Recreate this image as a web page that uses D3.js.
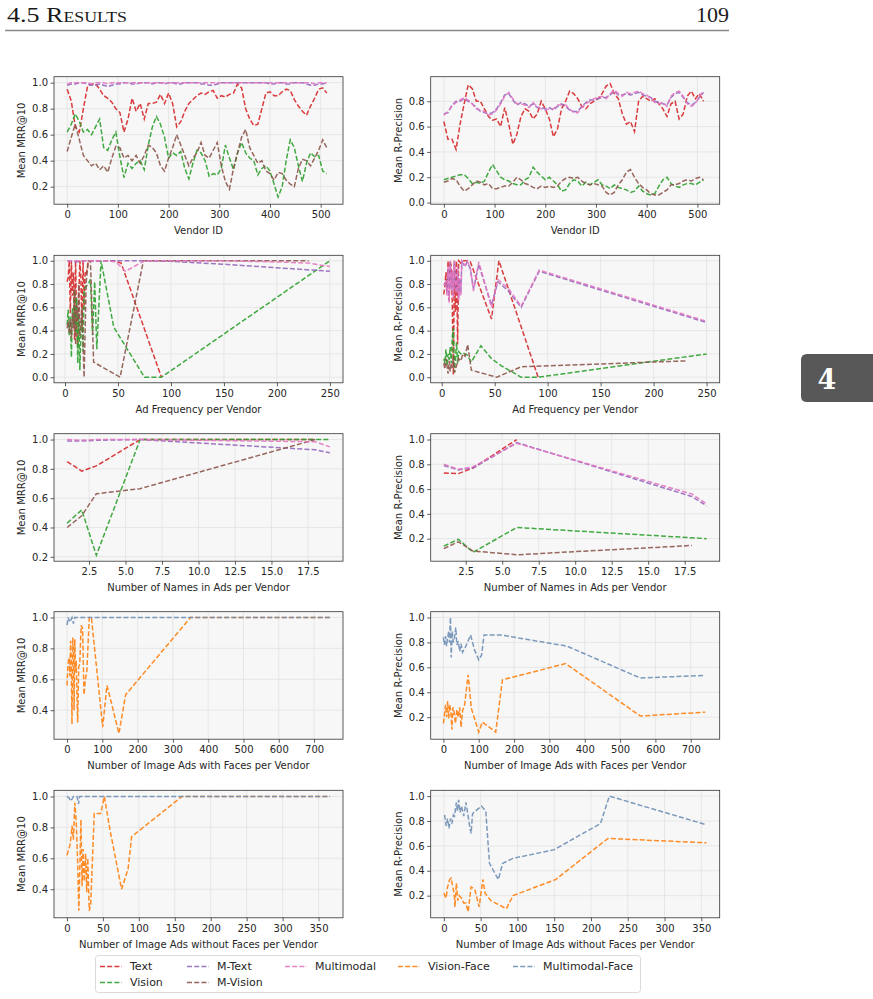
<!DOCTYPE html>
<html>
<head>
<meta charset="utf-8">
<script src="https://cdn.jsdelivr.net/npm/d3@7"></script>
<style>
  body { margin: 0; background: #fff; }
  svg { display: block; }
</style>
</head>
<body>
<svg id="fig" width="873" height="999"></svg>
<script>
// ---- data: mean scores per vendor id (sampled every 8 ids) ----
const vendorIds = d3.range(0, 520, 8);

const mrrVendorText = [0.95,0.86,0.66,0.62,0.80,0.97,0.99,0.99,0.95,0.90,
  0.88,0.85,0.80,0.77,0.62,0.72,0.88,0.78,0.84,0.72,
  0.84,0.84,0.85,0.91,0.84,0.92,0.84,0.66,0.70,0.78,
  0.84,0.87,0.90,0.92,0.91,0.93,0.94,0.88,0.90,0.89,
  0.91,0.92,0.99,0.96,0.80,0.72,0.67,0.68,0.80,0.92,
  0.93,0.90,0.90,0.93,0.95,0.94,0.87,0.82,0.78,0.75,
  0.82,0.88,0.95,0.96,0.92];
const mrrVendorVision = [0.62,0.68,0.76,0.70,0.62,0.64,0.60,0.66,0.72,0.50,
  0.48,0.56,0.62,0.43,0.27,0.38,0.34,0.38,0.40,0.33,
  0.52,0.66,0.74,0.68,0.58,0.42,0.46,0.44,0.47,0.34,
  0.26,0.38,0.48,0.46,0.40,0.28,0.30,0.29,0.34,0.52,
  0.42,0.33,0.46,0.54,0.46,0.42,0.40,0.29,0.34,0.36,
  0.32,0.22,0.12,0.20,0.40,0.56,0.50,0.36,0.24,0.38,
  0.46,0.43,0.44,0.32,0.30];
const mrrVendorMText = [0.98,0.99,0.99,1.00,1.00,0.99,0.98,0.98,0.99,0.98,
  0.97,0.98,0.99,0.99,1.00,1.00,0.99,0.99,1.00,1.00,
  1.00,0.99,1.00,1.00,0.99,1.00,1.00,0.99,0.99,1.00,
  1.00,1.00,1.00,0.99,0.99,0.98,0.98,0.99,1.00,1.00,
  1.00,1.00,1.00,1.00,1.00,1.00,1.00,1.00,1.00,1.00,
  0.99,0.99,1.00,1.00,0.99,0.99,1.00,1.00,1.00,0.99,
  0.98,0.98,0.99,0.99,1.00];
const mrrVendorMVision = [0.47,0.58,0.68,0.56,0.44,0.40,0.36,0.38,0.33,0.36,
  0.31,0.42,0.51,0.50,0.42,0.44,0.40,0.44,0.38,0.44,
  0.52,0.50,0.46,0.36,0.32,0.42,0.50,0.60,0.52,0.44,
  0.36,0.42,0.46,0.54,0.44,0.42,0.48,0.54,0.36,0.24,
  0.18,0.34,0.46,0.58,0.64,0.50,0.44,0.38,0.40,0.32,
  0.30,0.25,0.31,0.30,0.25,0.22,0.20,0.34,0.41,0.40,
  0.36,0.42,0.48,0.56,0.50];
const mrrVendorMultimodal = [0.99,1.00,1.00,1.00,1.00,1.00,0.99,1.00,1.00,1.00,
  0.99,1.00,1.00,1.00,1.00,1.00,1.00,1.00,1.00,1.00,
  1.00,1.00,1.00,1.00,1.00,1.00,1.00,1.00,1.00,1.00,
  1.00,1.00,1.00,1.00,1.00,1.00,1.00,1.00,1.00,1.00,
  1.00,1.00,1.00,1.00,1.00,1.00,1.00,1.00,1.00,1.00,
  1.00,1.00,1.00,1.00,1.00,1.00,1.00,1.00,1.00,1.00,
  1.00,0.99,1.00,1.00,1.00];

const rpVendorText = [0.64,0.50,0.50,0.42,0.62,0.78,0.93,0.90,0.80,0.80,
  0.74,0.68,0.65,0.66,0.60,0.75,0.62,0.46,0.54,0.68,
  0.74,0.72,0.66,0.70,0.80,0.74,0.66,0.52,0.58,0.74,
  0.80,0.88,0.86,0.82,0.76,0.74,0.78,0.80,0.82,0.86,
  0.92,0.94,0.86,0.82,0.70,0.62,0.64,0.56,0.80,0.84,
  0.82,0.80,0.82,0.78,0.74,0.68,0.78,0.80,0.66,0.70,
  0.84,0.88,0.82,0.86,0.80];
const rpVendorVision = [0.18,0.19,0.20,0.21,0.22,0.22,0.19,0.15,0.16,0.15,
  0.17,0.24,0.30,0.25,0.20,0.18,0.17,0.15,0.14,0.14,
  0.18,0.20,0.28,0.24,0.21,0.18,0.20,0.17,0.14,0.09,
  0.10,0.15,0.18,0.17,0.13,0.16,0.14,0.16,0.18,0.14,
  0.13,0.11,0.14,0.12,0.11,0.10,0.08,0.09,0.13,0.09,
  0.07,0.06,0.07,0.13,0.18,0.20,0.15,0.13,0.12,0.14,
  0.15,0.15,0.14,0.16,0.18];
const rpVendorMText = [0.70,0.71,0.77,0.80,0.80,0.82,0.80,0.78,0.75,0.72,
  0.71,0.70,0.71,0.74,0.79,0.85,0.86,0.81,0.77,0.79,
  0.78,0.76,0.78,0.75,0.75,0.74,0.75,0.73,0.76,0.78,
  0.76,0.73,0.72,0.72,0.76,0.79,0.81,0.81,0.82,0.83,
  0.83,0.85,0.88,0.85,0.85,0.86,0.85,0.86,0.87,0.85,
  0.84,0.83,0.80,0.79,0.78,0.77,0.83,0.86,0.87,0.83,
  0.79,0.77,0.79,0.83,0.87];
const rpVendorMVision = [0.16,0.17,0.19,0.18,0.13,0.09,0.11,0.14,0.17,0.16,
  0.14,0.15,0.11,0.11,0.12,0.13,0.13,0.16,0.20,0.18,
  0.15,0.14,0.12,0.11,0.13,0.12,0.13,0.12,0.13,0.17,
  0.19,0.20,0.19,0.20,0.17,0.15,0.14,0.15,0.14,0.13,
  0.08,0.06,0.08,0.14,0.18,0.24,0.26,0.20,0.15,0.12,
  0.10,0.07,0.06,0.06,0.08,0.10,0.14,0.14,0.15,0.17,
  0.18,0.17,0.19,0.20,0.18];
const rpVendorMultimodal = [0.69,0.72,0.76,0.79,0.81,0.83,0.81,0.78,0.74,0.73,
  0.72,0.69,0.70,0.73,0.78,0.84,0.87,0.82,0.78,0.78,
  0.77,0.75,0.79,0.76,0.74,0.73,0.74,0.74,0.77,0.77,
  0.77,0.74,0.71,0.71,0.75,0.78,0.80,0.82,0.83,0.84,
  0.82,0.86,0.89,0.86,0.84,0.87,0.86,0.87,0.88,0.86,
  0.85,0.82,0.79,0.78,0.79,0.76,0.84,0.87,0.88,0.84,
  0.78,0.76,0.78,0.84,0.88];

// ---- ad frequency per vendor ----
const freqMrrTextX = [2,3,4,5,6,7,8,9,10,11,12,13,14,15,16,17,18,19,20,22,24,26,46,53,91];
const freqMrrTextY = [0.82,0.86,1.0,0.55,1.0,0.7,0.9,0.32,1.0,0.45,0.25,0.68,1.0,0.85,0.4,1.0,0.58,0.9,0.88,1.0,1.0,1.0,1.0,0.98,0.0];
const freqMrrVisionX = [2,3,4,5,6,7,8,9,10,11,12,13,14,15,16,17,18,20,22,24,26,28,30,34,46,75,91,250];
const freqMrrVisionY = [0.45,0.58,0.36,0.52,0.17,0.6,0.46,0.75,0.38,0.68,0.12,0.55,0.06,0.38,0.5,0.22,0.76,0.78,0.8,0.84,0.36,0.82,0.24,1.0,0.43,0.0,0.0,1.0];
const freqMrrMTextX = [2,5,10,20,40,75,100,150,200,250];
const freqMrrMTextY = [1.0,1.0,0.99,1.0,1.0,1.0,0.995,0.97,0.94,0.91];
const freqMrrMVisionX = [2,3,4,5,6,7,8,9,10,11,12,13,14,16,18,20,22,24,27,52,74,120,180,230];
const freqMrrMVisionY = [0.42,0.48,0.38,0.5,0.34,0.55,0.42,0.76,0.28,0.62,0.48,0.8,0.35,0.6,0.0,0.82,1.0,1.0,0.13,0.0,1.0,1.0,1.0,1.0];
const freqMrrMultimodalX = [2,5,10,20,40,48,57,75,100,150,200,230,250];
const freqMrrMultimodalY = [1.0,1.0,1.0,1.0,1.0,0.99,0.91,1.0,1.0,1.0,0.99,0.98,0.95];

const freqRpTextX = [2,3,4,5,6,7,8,9,10,11,12,13,14,15,16,18,20,24,27,47,54,91];
const freqRpTextY = [0.71,0.79,0.9,0.74,1.0,0.66,1.0,0.95,0.62,0.02,1.0,0.56,1.0,0.28,1.0,0.98,1.0,1.0,0.99,0.5,1.0,0.0];
const freqRpVisionX = [2,3,4,5,6,7,8,9,10,11,12,13,14,15,16,18,20,24,28,33,37,47,56,75,91,250];
const freqRpVisionY = [0.16,0.12,0.24,0.1,0.2,0.15,0.26,0.12,0.35,0.42,0.04,0.16,0.3,0.12,0.22,0.2,0.21,0.19,0.13,0.21,0.27,0.16,0.1,0.0,0.0,0.2];
const freqRpMTextX = [2,4,5,6,7,8,9,10,11,12,13,14,15,16,17,18,19,22,24,27,30,35,39,47,53,63,75,92,250];
const freqRpMTextY = [0.8,0.8,0.72,0.93,0.66,0.98,0.77,0.9,0.7,0.99,0.78,0.74,0.93,0.68,0.84,0.72,0.99,0.95,0.99,0.93,0.76,0.97,0.85,0.62,0.82,0.74,0.6,0.91,0.47];
const freqRpMVisionX = [2,3,4,5,6,7,8,9,10,11,12,14,16,18,20,22,24.5,28,52,75,230];
const freqRpMVisionY = [0.12,0.07,0.16,0.1,0.03,0.14,0.05,0.12,0.08,0.18,0.04,0.1,0.16,0.14,0.2,0.18,0.28,0.06,0.0,0.09,0.14];
const freqRpMultimodalX = [2,4,5,6,7,8,9,10,11,12,13,14,15,16,17,18,19,22,24,27,30,35,39,47,53,63,75,92,250];
const freqRpMultimodalY = [0.79,0.82,0.7,0.95,0.64,1.0,0.75,0.92,0.68,1.0,0.8,0.72,0.95,0.66,0.85,0.7,1.0,0.96,1.0,0.94,0.74,0.99,0.86,0.6,0.84,0.76,0.61,0.92,0.48];

// ---- number of names in ads per vendor ----
const namesMrrTextX = [1,2,3,6,18];
const namesMrrTextY = [0.85,0.785,0.82,1.0,1.0];
const namesMrrVisionX = [1,2,3,6,19];
const namesMrrVisionY = [0.43,0.52,0.21,1.0,1.0];
const namesMrrMTextX = [1,2,3,6,18,19];
const namesMrrMTextY = [0.99,0.99,0.995,1.0,0.93,0.91];
const namesMrrMVisionX = [1,2,3,6,18];
const namesMrrMVisionY = [0.40,0.48,0.63,0.665,1.0];
const namesMrrMultimodalX = [1,2,3,6,18,19];
const namesMrrMultimodalY = [1.0,0.995,1.0,1.0,0.985,0.95];

const namesRpTextX = [1,2,3,6];
const namesRpTextY = [0.73,0.725,0.77,1.0];
const namesRpVisionX = [1,2,3,6,19];
const namesRpVisionY = [0.14,0.195,0.09,0.29,0.20];
const namesRpMTextX = [1,2,3,6,18,19];
const namesRpMTextY = [0.79,0.755,0.77,0.975,0.54,0.465];
const namesRpMVisionX = [1,2,3,6,18];
const namesRpMVisionY = [0.12,0.175,0.10,0.07,0.145];
const namesRpMultimodalX = [1,2,3,6,18,19];
const namesRpMultimodalY = [0.80,0.76,0.78,0.97,0.56,0.48];

// ---- image ads with faces per vendor ----
const facesMrrVisionFaceX = [0,2,4,6,8,10,12,14,16,18,20,22,24,26,28,30,33,36,40,44,48,52,56,63,69,101,113,120,147,166,350,745];
const facesMrrVisionFaceY = [0.56,0.67,0.72,0.74,0.62,0.85,0.7,0.31,0.87,0.78,0.4,0.86,0.65,0.72,0.5,0.32,0.68,0.7,0.95,0.93,0.5,0.6,0.65,1.0,1.0,0.29,0.56,0.5,0.25,0.5,1.0,1.0];
const facesMrrMmFaceX = [0,3,8,14,18,22,745];
const facesMrrMmFaceY = [0.95,1.0,0.97,1.0,0.96,1.0,1.0];

const facesRpVisionFaceX = [0,3,6,9,12,15,18,21,24,27,30,34,38,42,46,50,54,60,70,79,88,100,110,125,148,167,346,557,741];
const facesRpVisionFaceY = [0.15,0.22,0.3,0.2,0.33,0.19,0.3,0.25,0.1,0.28,0.24,0.15,0.26,0.2,0.28,0.12,0.25,0.3,0.54,0.27,0.19,0.08,0.16,0.13,0.08,0.5,0.63,0.21,0.24];
const facesRpMmFaceX = [0,3,6,9,12,15,17,19,20,22,25,28,31,35,38,42,46,50,54,62,77,88,100,108,115,162,350,557,741];
const facesRpMmFaceY = [0.84,0.78,0.85,0.77,0.84,0.89,0.8,0.95,1.0,0.68,0.89,0.8,0.83,0.92,0.78,0.81,0.73,0.79,0.72,0.76,0.86,0.74,0.66,0.7,0.86,0.86,0.77,0.515,0.535];

// ---- image ads without faces per vendor ----
const noFacesMrrVisionFaceX = [0,2,4,6,7,9,11,13,15,16.5,18,19.5,21,22.5,24,26,27.5,29,31,33,38,47,52,60,76,85,90,160,366];
const noFacesMrrVisionFaceY = [0.62,0.65,0.68,0.75,0.81,0.72,0.96,0.83,0.56,0.26,0.55,0.85,0.42,0.66,0.45,0.63,0.38,0.6,0.26,0.3,0.89,0.89,1.0,0.78,0.4,0.53,0.74,1.0,1.0];
const noFacesMrrMmFaceX = [0,3,5.5,9,14,16,17.5,366];
const noFacesMrrMmFaceY = [1.0,0.99,0.97,1.0,1.0,0.95,1.0,1.0];

const noFacesRpVisionFaceX = [0,3,5,8,10,12,14,15,17,19,21,24,27,30,33,37,42,48,53,56,64,85,94,152,223,357];
const noFacesRpVisionFaceY = [0.22,0.18,0.27,0.33,0.34,0.27,0.22,0.11,0.3,0.16,0.2,0.18,0.14,0.14,0.07,0.27,0.25,0.11,0.33,0.22,0.16,0.095,0.2,0.33,0.66,0.625];
const noFacesRpMmFaceX = [1,3,5,7,9,11,13,14.5,17,18.5,20,22,24,27,30,33,35,37,39,51,57,62,74,80,94,150,213,225,357];
const noFacesRpMmFaceY = [0.85,0.76,0.82,0.74,0.82,0.78,0.85,0.84,0.95,0.88,0.97,0.87,0.92,0.84,0.95,0.84,0.76,0.7,0.86,0.92,0.88,0.46,0.33,0.46,0.5,0.57,0.78,1.0,0.77];

const legendNames = ['Text', 'Vision', 'M-Text', 'M-Vision', 'Multimodal', 'Vision-Face', 'Multimodal-Face'];

// ---- layout ----
const colors = {
  'Text': '#d62728', 'Vision': '#2ca02c', 'M-Text': '#9467bd', 'M-Vision': '#8c564b',
  'Multimodal': '#e377c2', 'Vision-Face': '#ff7f0e', 'Multimodal-Face': '#6f8fb5'
};
const font = "'DejaVu Sans', sans-serif";
const boxW = 289, boxH = 127.5;
const colLeft = [54, 430.7];
const rowTop = [76.7, 255.3, 433.7, 611.7, 790.3];
const fmt1 = d3.format('.1f');
const fmtInt = d3.format('d');

const panels = [
  { row: 0, col: 0, xDom: [-26, 544], yDom: [0.065, 1.046], xTicks: d3.range(0, 501, 100), yTicks: [0.2, 0.4, 0.6, 0.8, 1.0],
    xLabel: 'Vendor ID', yLabel: 'Mean MRR@10',
    series: [['Text', vendorIds, mrrVendorText], ['Vision', vendorIds, mrrVendorVision], ['M-Text', vendorIds, mrrVendorMText],
             ['M-Vision', vendorIds, mrrVendorMVision], ['Multimodal', vendorIds, mrrVendorMultimodal]] },
  { row: 0, col: 1, xDom: [-26, 544], yDom: [-0.013, 0.994], xTicks: d3.range(0, 501, 100), yTicks: [0.0, 0.2, 0.4, 0.6, 0.8],
    xLabel: 'Vendor ID', yLabel: 'Mean R-Precision',
    series: [['Text', vendorIds, rpVendorText], ['Vision', vendorIds, rpVendorVision], ['M-Text', vendorIds, rpVendorMText],
             ['M-Vision', vendorIds, rpVendorMVision], ['Multimodal', vendorIds, rpVendorMultimodal]] },
  { row: 1, col: 0, xDom: [-10.4, 262.4], yDom: [-0.048, 1.047], xTicks: d3.range(0, 251, 50), yTicks: [0.0, 0.2, 0.4, 0.6, 0.8, 1.0],
    xLabel: 'Ad Frequency per Vendor', yLabel: 'Mean MRR@10',
    series: [['Text', freqMrrTextX, freqMrrTextY], ['Vision', freqMrrVisionX, freqMrrVisionY], ['M-Text', freqMrrMTextX, freqMrrMTextY],
             ['M-Vision', freqMrrMVisionX, freqMrrMVisionY], ['Multimodal', freqMrrMultimodalX, freqMrrMultimodalY]] },
  { row: 1, col: 1, xDom: [-10.4, 262.4], yDom: [-0.048, 1.047], xTicks: d3.range(0, 251, 50), yTicks: [0.0, 0.2, 0.4, 0.6, 0.8, 1.0],
    xLabel: 'Ad Frequency per Vendor', yLabel: 'Mean R-Precision',
    series: [['Text', freqRpTextX, freqRpTextY], ['Vision', freqRpVisionX, freqRpVisionY], ['M-Text', freqRpMTextX, freqRpMTextY],
             ['M-Vision', freqRpMVisionX, freqRpMVisionY], ['Multimodal', freqRpMultimodalX, freqRpMultimodalY]] },
  { row: 2, col: 0, xDom: [0.1, 19.9], yDom: [0.17, 1.04], xTicks: [2.5, 5, 7.5, 10, 12.5, 15, 17.5], xFmt: fmt1, yTicks: [0.2, 0.4, 0.6, 0.8, 1.0],
    xLabel: 'Number of Names in Ads per Vendor', yLabel: 'Mean MRR@10',
    series: [['Text', namesMrrTextX, namesMrrTextY], ['Vision', namesMrrVisionX, namesMrrVisionY], ['M-Text', namesMrrMTextX, namesMrrMTextY],
             ['M-Vision', namesMrrMVisionX, namesMrrMVisionY], ['Multimodal', namesMrrMultimodalX, namesMrrMultimodalY]] },
  { row: 2, col: 1, xDom: [0.1, 19.9], yDom: [0.018, 1.047], xTicks: [2.5, 5, 7.5, 10, 12.5, 15, 17.5], xFmt: fmt1, yTicks: [0.2, 0.4, 0.6, 0.8, 1.0],
    xLabel: 'Number of Names in Ads per Vendor', yLabel: 'Mean R-Precision',
    series: [['Text', namesRpTextX, namesRpTextY], ['Vision', namesRpVisionX, namesRpVisionY], ['M-Text', namesRpMTextX, namesRpMTextY],
             ['M-Vision', namesRpMVisionX, namesRpMVisionY], ['Multimodal', namesRpMultimodalX, namesRpMultimodalY]] },
  { row: 3, col: 0, xDom: [-37, 782], yDom: [0.2125, 1.0375], xTicks: d3.range(0, 701, 100), yTicks: [0.4, 0.6, 0.8, 1.0],
    xLabel: 'Number of Image Ads with Faces per Vendor', yLabel: 'Mean MRR@10',
    series: [['Vision-Face', facesMrrVisionFaceX, facesMrrVisionFaceY], ['Multimodal-Face', facesMrrMmFaceX, facesMrrMmFaceY]] },
  { row: 3, col: 1, xDom: [-36, 782], yDom: [0.0235, 1.0465], xTicks: d3.range(0, 701, 100), yTicks: [0.2, 0.4, 0.6, 0.8, 1.0],
    xLabel: 'Number of Image Ads with Faces per Vendor', yLabel: 'Mean R-Precision',
    series: [['Vision-Face', facesRpVisionFaceX, facesRpVisionFaceY], ['Multimodal-Face', facesRpMmFaceX, facesRpMmFaceY]] },
  { row: 4, col: 0, xDom: [-18, 384], yDom: [0.215, 1.04], xTicks: d3.range(0, 351, 50), yTicks: [0.4, 0.6, 0.8, 1.0],
    xLabel: 'Number of Image Ads without Faces per Vendor', yLabel: 'Mean MRR@10',
    series: [['Vision-Face', noFacesMrrVisionFaceX, noFacesMrrVisionFaceY], ['Multimodal-Face', noFacesMrrMmFaceX, noFacesMrrMmFaceY]] },
  { row: 4, col: 1, xDom: [-17.9, 375], yDom: [0.022, 1.047], xTicks: d3.range(0, 351, 50), yTicks: [0.2, 0.4, 0.6, 0.8, 1.0],
    xLabel: 'Number of Image Ads without Faces per Vendor', yLabel: 'Mean R-Precision',
    series: [['Vision-Face', noFacesRpVisionFaceX, noFacesRpVisionFaceY], ['Multimodal-Face', noFacesRpMmFaceX, noFacesRpMmFaceY]] }
];

const svg = d3.select('#fig');

// page header
svg.append('text')
  .attr('x', 7).attr('y', 22)
  .attr('font-family', "'Liberation Serif', serif").attr('font-size', 22)
  .attr('fill', '#1a1a1a')
  .style('font-variant', 'small-caps')
  .attr('textLength', 120).attr('lengthAdjust', 'spacingAndGlyphs')
  .text('4.5 Results');
svg.append('text')
  .attr('x', 729).attr('y', 22).attr('text-anchor', 'end')
  .attr('font-family', "'Liberation Serif', serif").attr('font-size', 22)
  .attr('fill', '#1a1a1a')
  .text('109');
svg.append('line')
  .attr('x1', 5).attr('x2', 729).attr('y1', 30.5).attr('y2', 30.5)
  .attr('stroke', '#8a8a8a').attr('stroke-width', 1.5);

// chapter tab on the right edge
svg.append('path')
  .attr('d', 'M873,354 L807,354 Q801,354 801,360 L801,396 Q801,402 807,402 L873,402 Z')
  .attr('fill', '#585858');
svg.append('text')
  .attr('x', 827).attr('y', 389).attr('text-anchor', 'middle')
  .attr('font-family', "'DejaVu Serif', serif").attr('font-weight', 'bold').attr('font-size', 27)
  .attr('fill', '#fff')
  .text('4');

const defs = svg.append('defs');

panels.forEach((p, i) => {
  const x0 = colLeft[p.col], y0 = rowTop[p.row];
  const x = d3.scaleLinear().domain(p.xDom).range([x0, x0 + boxW]);
  const y = d3.scaleLinear().domain(p.yDom).range([y0 + boxH, y0]);
  const g = svg.append('g');

  g.append('rect')
    .attr('x', x0).attr('y', y0).attr('width', boxW).attr('height', boxH)
    .attr('fill', '#f7f7f7');

  // grid
  g.selectAll('.vgrid').data(p.xTicks).join('line')
    .attr('x1', d => x(d)).attr('x2', d => x(d))
    .attr('y1', y0).attr('y2', y0 + boxH)
    .attr('stroke', '#e2e2e2').attr('stroke-width', 0.8);
  g.selectAll('.hgrid').data(p.yTicks).join('line')
    .attr('x1', x0).attr('x2', x0 + boxW)
    .attr('y1', d => y(d)).attr('y2', d => y(d))
    .attr('stroke', '#e2e2e2').attr('stroke-width', 0.8);

  defs.append('clipPath').attr('id', 'clip' + i)
    .append('rect').attr('x', x0).attr('y', y0).attr('width', boxW).attr('height', boxH);

  const line = d3.line().x(d => x(d[0])).y(d => y(d[1]));
  const lines = g.append('g').attr('clip-path', `url(#clip${i})`);
  p.series.forEach(([name, xs, ys]) => {
    lines.append('path')
      .datum(d3.zip(xs, ys))
      .attr('d', line)
      .attr('fill', 'none')
      .attr('stroke', colors[name])
      .attr('stroke-opacity', 0.9)
      .attr('stroke-width', 1.5)
      .attr('stroke-dasharray', '5,2.2');
  });

  g.append('rect')
    .attr('x', x0).attr('y', y0).attr('width', boxW).attr('height', boxH)
    .attr('fill', 'none').attr('stroke', '#333').attr('stroke-width', 0.8);

  const xAxis = g.append('g')
    .attr('transform', `translate(0,${y0 + boxH})`)
    .call(d3.axisBottom(x).tickValues(p.xTicks).tickFormat(p.xFmt || fmtInt).tickSize(3.5).tickPadding(3.5).tickSizeOuter(0));
  const yAxis = g.append('g')
    .attr('transform', `translate(${x0},0)`)
    .call(d3.axisLeft(y).tickValues(p.yTicks).tickFormat(fmt1).tickSize(3.5).tickPadding(2.5).tickSizeOuter(0));
  [xAxis, yAxis].forEach(a => {
    a.select('.domain').remove();
    a.attr('font-family', font).attr('font-size', 10);
    a.selectAll('line').attr('stroke', '#333').attr('stroke-width', 0.8);
    a.selectAll('text').attr('fill', '#262626');
  });

  g.append('text')
    .attr('x', x0 + boxW / 2).attr('y', y0 + boxH + 30)
    .attr('text-anchor', 'middle')
    .attr('font-family', font).attr('font-size', 10).attr('fill', '#262626')
    .text(p.xLabel);
  g.append('text')
    .attr('transform', `translate(${x0 - 29},${y0 + boxH / 2}) rotate(-90)`)
    .attr('text-anchor', 'middle')
    .attr('font-family', font).attr('font-size', 10).attr('fill', '#262626')
    .text(p.yLabel);
});

// legend (column-major, 5 columns)
const legendCols = [100, 187, 285, 398, 513];
const legendRows = [966.5, 982.5];
const legendPos = {
  'Text': [0, 0], 'Vision': [0, 1], 'M-Text': [1, 0], 'M-Vision': [1, 1],
  'Multimodal': [2, 0], 'Vision-Face': [3, 0], 'Multimodal-Face': [4, 0]
};
const legend = svg.append('g');
legend.append('rect')
  .attr('x', 95.5).attr('y', 955.5).attr('width', 545).attr('height', 37).attr('rx', 3)
  .attr('fill', '#fff').attr('stroke', '#d0d0d0').attr('stroke-width', 0.8);
const items = legend.selectAll('.item').data(legendNames).join('g')
  .attr('transform', d => `translate(${legendCols[legendPos[d][0]]},${legendRows[legendPos[d][1]]})`);
items.append('line')
  .attr('x1', 0).attr('x2', 22).attr('y1', 0).attr('y2', 0)
  .attr('stroke', d => colors[d]).attr('stroke-opacity', 0.9)
  .attr('stroke-width', 1.5).attr('stroke-dasharray', '5,2.2');
items.append('text')
  .attr('x', 30).attr('y', 0).attr('dy', '0.35em')
  .attr('font-family', font).attr('font-size', 11).attr('fill', '#262626')
  .text(d => d);
</script>
</body>
</html>
